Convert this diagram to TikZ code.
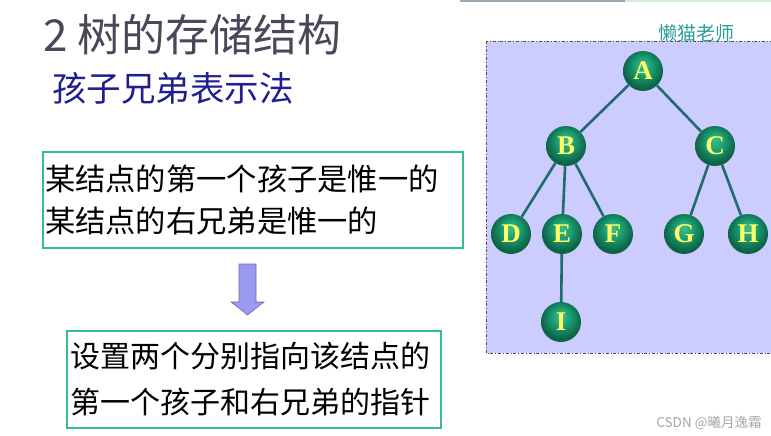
\documentclass[tikz,border=0pt]{standalone}
\usepackage{fontspec}
\setmainfont{Noto Sans CJK SC}
\newfontfamily\letterfont{Liberation Serif}
\usetikzlibrary{positioning}

\definecolor{titlegray}{HTML}{48485A}
\definecolor{subblue}{HTML}{1F1F8F}
\definecolor{boxgreen}{HTML}{33BB99}
\definecolor{arrowfill}{HTML}{9A9AF0}
\definecolor{arrowline}{HTML}{6A6AB0}
\definecolor{panelbg}{HTML}{CCCCFE}
\definecolor{edgeteal}{HTML}{1E6B70}
\definecolor{signteal}{HTML}{2A9D9D}
\definecolor{letteryellow}{HTML}{FFFF66}
\definecolor{ballhi}{HTML}{3DBE8E}
\definecolor{ballmid}{HTML}{1A9C70}
\definecolor{balldark}{HTML}{0C6446}
\pgfdeclareradialshading{greenball}{\pgfpoint{0bp}{8bp}}{%
  color(0bp)=(ballhi); color(12bp)=(ballmid);
  color(25bp)=(balldark); color(50bp)=(balldark)}

\begin{document}
\begin{tikzpicture}[
  x=1pt, y=-1pt,
  tbox/.style={rectangle, draw=boxgreen, line width=1.8pt, align=left,
               inner xsep=2pt, inner ysep=0pt},
  ball/.style={circle, minimum size=40pt, inner sep=0pt, shading=greenball,
               text=letteryellow, font=\letterfont\bfseries\fontsize{27}{27}\selectfont},
  edge/.style={draw=edgeteal, line width=2.6pt}
]
\useasboundingbox (0,0) rectangle (771,436);

% strip at the top edge
\fill[fill={rgb,255:red,154;green,169;blue,181}] (460,0) rectangle (625,2.5);
\fill[fill={rgb,255:red,213;green,236;blue,213}] (625,0) rectangle (771,2.5);

% titles
\node[anchor=west, text=titlegray, font=\fontsize{44}{44}\selectfont, inner sep=0pt]
  (title) at (43,35) {2 树的存储结构};
\node[anchor=west, text=subblue, font=\fontsize{34.5}{34.5}\selectfont, inner sep=0pt]
  (subtitle) at (52,88) {孩子兄弟表示法};

% left boxes
\node[tbox, minimum width=420pt, minimum height=96pt, text width=416pt,
      font=\fontsize{30.3}{42}\selectfont] (unique) at (253,200)
  {某结点的第一个孩子是惟一的\\某结点的右兄弟是惟一的};
\node[tbox, minimum width=374pt, minimum height=97pt, text width=368pt,
      inner xsep=3pt, font=\fontsize{30}{46}\selectfont] (pointers) at (254,379.5)
  {设置两个分别指向该结点的\\第一个孩子和右兄弟的指针};

% block arrow
\filldraw[fill=arrowfill, draw=arrowline, line width=0.6pt]
  (239,264) -- (256,264) -- (256,302) -- (264,302) -- (247.5,315)
  -- (231,302) -- (239,302) -- cycle;

% tree panel
\filldraw[fill=panelbg, draw=black!70, line width=0.7pt, dash dot]
  (486,41.5) rectangle (776,353);
\node[text=signteal, font=\fontsize{19}{19}\selectfont, inner sep=0pt]
  (sign) at (696,33) {懒猫老师};

\node[ball] (A) at (643,71)  {A};
\node[ball] (B) at (566,146) {B};
\node[ball] (C) at (715,146) {C};
\node[ball] (D) at (511,234) {D};
\node[ball] (E) at (562,234) {E};
\node[ball] (F) at (613,234) {F};
\node[ball] (G) at (684,234) {G};
\node[ball] (H) at (748,234) {H};
\node[ball] (I) at (561,322) {I};

\draw[edge] (A) -- (B);
\draw[edge] (A) -- (C);
\draw[edge] (B) -- (D);
\draw[edge] (B) -- (E);
\draw[edge] (B) -- (F);
\draw[edge] (C) -- (G);
\draw[edge] (C) -- (H);
\draw[edge] (E) -- (I);

% watermark
\node[text=black!35, font=\fontsize{13.5}{13.5}\selectfont, inner sep=0pt]
  (mark) at (709,423) {CSDN @曦月逸霜};
\end{tikzpicture}
\end{document}
